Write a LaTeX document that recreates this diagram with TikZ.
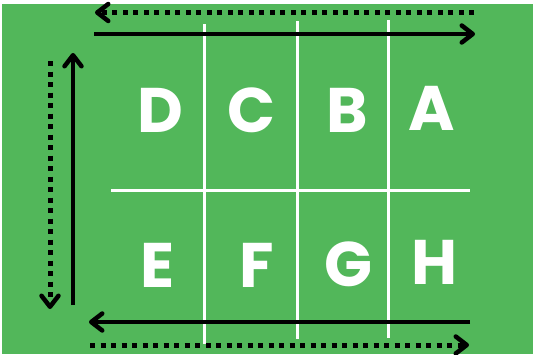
\documentclass[tikz,border=0pt]{standalone}
\usepackage{fontspec}
\setmainfont{Poppins}
\usetikzlibrary{arrows.meta}
\definecolor{field}{RGB}{82,183,90}
\begin{document}
\begin{tikzpicture}[x=1pt,y=-1pt,
  solidarrow/.style={line width=4.5pt,-{Straight Barb[length=11pt,width=17pt,line width=4.5pt,round]}},
  dotarrow/.style={line width=5pt,dash pattern=on 5pt off 5.5pt,-{Straight Barb[length=11pt,width=17pt,line width=4.5pt,round]}},
  gridline/.style={white,line width=3pt},
  letter/.style={text=white,font=\fontsize{63}{63}\selectfont\bfseries,inner sep=0pt,anchor=center}]
\useasboundingbox (0,0) rectangle (533,354);
\fill[white] (0,0) rectangle (533,354);
\fill[field] (2,4) rectangle (533,354);
% grid lines
\coordinate (v1t) at (204,24); \coordinate (v1b) at (204,344);
\coordinate (v2t) at (297,21); \coordinate (v2b) at (297,339);
\coordinate (v3t) at (388,20); \coordinate (v3b) at (388,338);
\coordinate (hl) at (111,190); \coordinate (hr) at (470,190);
\draw[gridline] (v1t) -- (v1b);
\draw[gridline] (v2t) -- (v2b);
\draw[gridline] (v3t) -- (v3b);
\draw[gridline] (hl) -- (hr);
% arrows
\coordinate (tds) at (474,12.5); \coordinate (tde) at (95,12.5);
\coordinate (tss) at (94,34); \coordinate (tse) at (475,34);
\coordinate (lds) at (50,61); \coordinate (lde) at (50,309);
\coordinate (lss) at (73,305); \coordinate (lse) at (73,53);
\coordinate (bss) at (470,322); \coordinate (bse) at (89,322);
\coordinate (bds) at (90,345); \coordinate (bde) at (469,345);
\draw[dotarrow] (tds) -- (tde);
\draw[solidarrow] (tss) -- (tse);
\draw[dotarrow] (lds) -- (lde);
\draw[solidarrow] (lss) -- (lse);
\draw[solidarrow] (bss) -- (bse);
\draw[dotarrow] (bds) -- (bde);
% letters
\node[letter] (D) at (160,110) {D};
\node[letter] (C) at (252,110) {C};
\node[letter] (B) at (347,110) {B};
\node[letter] (A) at (432,108) {A};
\node[letter] (E) at (158,265) {E};
\node[letter] (F) at (257,265) {F};
\node[letter] (G) at (348,264) {G};
\node[letter] (H) at (435,262) {H};
\end{tikzpicture}
\end{document}
